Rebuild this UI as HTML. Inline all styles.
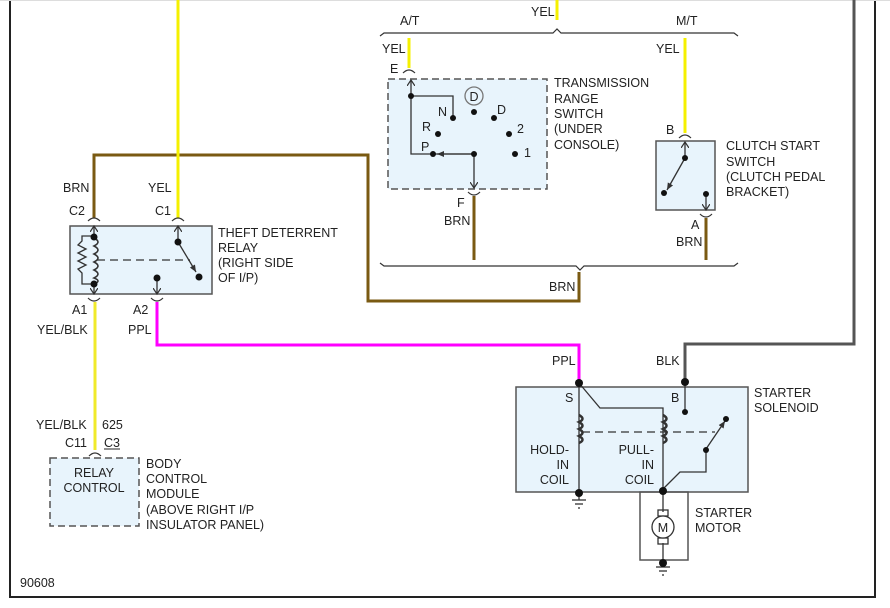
<!DOCTYPE html>
<html><head><meta charset="utf-8"><style>
html,body{margin:0;padding:0;background:#fff}
svg{display:block}
text{font-family:"Liberation Sans",Arial,sans-serif;font-size:12.5px;fill:#222}
</style></head><body>
<svg width="890" height="608" viewBox="0 0 890 608" xmlns="http://www.w3.org/2000/svg">
<defs>
<marker id="ar" markerWidth="8" markerHeight="8" refX="6" refY="4" orient="auto" markerUnits="userSpaceOnUse"><path d="M0,0 L6,4 L0,8" fill="none" stroke="#333" stroke-width="1.2"/></marker>
<marker id="af" markerWidth="8" markerHeight="8" refX="7" refY="4" orient="auto" markerUnits="userSpaceOnUse"><path d="M0,1 L7,4 L0,7Z" fill="#333"/></marker>
</defs>
<path d="M10,0 V597 H875 V0" fill="none" stroke="#222" stroke-width="2"/>
<line x1="0" y1="0.5" x2="890" y2="0.5" stroke="#ddd"/>

<path d="M94,218 V155 H368 V301 H579 V272" fill="none" stroke="#7a5a12" stroke-width="3"/>
<line x1="178" y1="0" x2="178" y2="218" stroke="#f5f000" stroke-width="3"/>
<line x1="95" y1="302" x2="95" y2="450" stroke="#f0ea2a" stroke-width="3"/>
<path d="M157,302 V345 H579 V382" fill="none" stroke="#ff00ff" stroke-width="3"/>
<path d="M854,0 V344 H685 V382" fill="none" stroke="#555" stroke-width="3"/>
<line x1="557" y1="0" x2="557" y2="20" stroke="#f5f000" stroke-width="3"/>
<line x1="409" y1="38" x2="409" y2="68" stroke="#f5f000" stroke-width="3"/>
<line x1="685" y1="38" x2="685" y2="133" stroke="#f5f000" stroke-width="3"/>
<line x1="474" y1="196" x2="474" y2="260" stroke="#7a5a12" stroke-width="3"/>
<line x1="706" y1="218" x2="706" y2="260" stroke="#7a5a12" stroke-width="3"/>

<path d="M380,36 L384,33 H553 L557,29 L561,33 H734 L738,36" fill="none" stroke="#333" stroke-width="1.2"/>
<path d="M380,263 L384,266 H576 L580,270 L584,266 H734 L738,263" fill="none" stroke="#333" stroke-width="1.2"/>

<g fill="none" stroke="#333" stroke-width="1.2">
<path d="M88,221 Q94,215 100,221"/><path d="M172,221 Q178,215 184,221"/>
<path d="M88,298 Q94,304 100,298"/><path d="M151,298 Q157,304 163,298"/>
<path d="M403,73 Q409,67 415,73"/><path d="M468,192 Q474,198 480,192"/>
<path d="M679,138 Q685,132 691,138"/><path d="M700,214 Q706,220 712,214"/>
<path d="M89,456 Q95,450 101,456"/>
</g>

<rect x="70" y="226" width="142" height="68" fill="#e8f4fc" stroke="#555" stroke-width="1.5"/>
<g stroke="#333" stroke-width="1.3" fill="none">
<line x1="94" y1="238" x2="94" y2="226" marker-end="url(#ar)"/>
<line x1="94" y1="284" x2="94" y2="294" marker-end="url(#ar)"/>
<path d="M94,238 q8,4 0,8 q8,4 0,8 q8,4 0,8 q8,4 0,8 q8,4 0,8 q8,3 0,6" stroke-width="1.6"/>
<path d="M94,236 H82 V241 l-4,4 l8,4 l-8,4 l8,4 l-8,4 l8,4 l-8,4 l4,4 V284 H94"/>
<line x1="97" y1="260" x2="190" y2="260" stroke-dasharray="8,5"/>
<line x1="178" y1="240" x2="178" y2="226" marker-end="url(#ar)"/>
<line x1="178" y1="242" x2="196" y2="272" marker-end="url(#af)"/>
<line x1="157" y1="279" x2="157" y2="294" marker-end="url(#ar)"/>
</g>
<g fill="#111"><circle cx="94" cy="237" r="3.5"/><circle cx="94" cy="284" r="3.5"/><circle cx="178" cy="242" r="3.5"/><circle cx="199" cy="277" r="3.5"/><circle cx="157" cy="278" r="3.5"/></g>
<text x="63" y="192">BRN</text><text x="148" y="192">YEL</text>
<text x="69" y="215">C2</text><text x="155" y="215">C1</text>
<text x="218" y="237">THEFT DETERRENT</text><text x="218" y="252">RELAY</text><text x="218" y="267">(RIGHT SIDE</text><text x="218" y="282">OF I/P)</text>
<text x="72" y="314">A1</text><text x="133" y="314">A2</text>
<text x="37" y="334">YEL/BLK</text><text x="128" y="334">PPL</text>

<rect x="50" y="458" width="89" height="68" fill="#e8f4fc" stroke="#555" stroke-width="1.5" stroke-dasharray="7,4"/>
<text x="36" y="429">YEL/BLK</text><text x="102" y="429">625</text>
<text x="65" y="447">C11</text><text x="104" y="447">C3</text><line x1="104" y1="449" x2="120" y2="449" stroke="#222"/>
<text x="94" y="477" text-anchor="middle">RELAY</text><text x="94" y="492" text-anchor="middle">CONTROL</text>
<text x="146" y="468">BODY</text><text x="146" y="483">CONTROL</text><text x="146" y="498">MODULE</text><text x="146" y="514">(ABOVE RIGHT I/P</text><text x="146" y="529">INSULATOR PANEL)</text>
<text x="20" y="587">90608</text>

<rect x="388" y="79" width="159" height="110" fill="#e8f4fc" stroke="#555" stroke-width="1.5" stroke-dasharray="7,4"/>
<g stroke="#333" stroke-width="1.3" fill="none">
<line x1="411" y1="96" x2="411" y2="80" marker-end="url(#ar)"/>
<path d="M411,96 H453 V118"/>
<path d="M411,96 V154 H474"/>
<line x1="474" y1="154" x2="437" y2="154" marker-end="url(#af)"/>
<line x1="474" y1="154" x2="474" y2="188" marker-end="url(#ar)"/>
<circle cx="474" cy="96" r="9" stroke="#777"/>
</g>
<g fill="#111"><circle cx="411" cy="96" r="3"/><circle cx="453" cy="118" r="3"/><circle cx="474" cy="112" r="3"/><circle cx="494" cy="118" r="3"/><circle cx="438" cy="134" r="3"/><circle cx="509" cy="134" r="3"/><circle cx="433" cy="154" r="3"/><circle cx="474" cy="154" r="3"/><circle cx="515" cy="154" r="3"/></g>
<text x="474" y="101" text-anchor="middle">D</text>
<text x="438" y="116">N</text><text x="497" y="114">D</text><text x="422" y="131">R</text><text x="517" y="133">2</text><text x="421" y="151">P</text><text x="524" y="157">1</text>
<text x="400" y="25">A/T</text><text x="531" y="16">YEL</text><text x="676" y="25">M/T</text>
<text x="382" y="53">YEL</text><text x="390" y="73">E</text>
<text x="457" y="207">F</text><text x="444" y="225">BRN</text>
<text x="554" y="87">TRANSMISSION</text><text x="554" y="103">RANGE</text><text x="554" y="118">SWITCH</text><text x="554" y="133">(UNDER</text><text x="554" y="149">CONSOLE)</text>

<rect x="656" y="141" width="59" height="69" fill="#e8f4fc" stroke="#555" stroke-width="1.5"/>
<g stroke="#333" stroke-width="1.3" fill="none">
<line x1="685" y1="158" x2="685" y2="142" marker-end="url(#ar)"/>
<line x1="685" y1="158" x2="667" y2="190" marker-end="url(#af)"/>
<line x1="706" y1="194" x2="706" y2="210" marker-end="url(#ar)"/>
</g>
<g fill="#111"><circle cx="685" cy="158" r="3"/><circle cx="664" cy="193" r="3"/><circle cx="706" cy="194" r="3"/></g>
<text x="656" y="53">YEL</text><text x="666" y="134">B</text><text x="691" y="229">A</text><text x="676" y="246">BRN</text>
<text x="726" y="150">CLUTCH START</text><text x="726" y="166">SWITCH</text><text x="726" y="181">(CLUTCH PEDAL</text><text x="726" y="196">BRACKET)</text>
<text x="549" y="291">BRN</text>

<rect x="516" y="387" width="232" height="105" fill="#e8f4fc" stroke="#555" stroke-width="1.5"/>
<rect x="640" y="492" width="48" height="68" fill="none" stroke="#555" stroke-width="1.5"/>
<g stroke="#333" stroke-width="1.3" fill="none">
<line x1="579" y1="382" x2="579" y2="493"/>
<path d="M579,383 L600,408 H663 V491"/>
<path d="M579,415 q7,4 0,7 q7,4 0,7 q7,4 0,7 q7,4 0,7" stroke-width="2.5"/>
<path d="M663,415 q7,4 0,7 q7,4 0,7 q7,4 0,7 q7,4 0,7" stroke-width="2.5"/>
<line x1="582" y1="432" x2="715" y2="432" stroke-dasharray="8,5"/>
<line x1="685" y1="382" x2="685" y2="412"/>
<path d="M663,489 L680,472 H706 V449"/>
<line x1="706" y1="449" x2="725" y2="421" marker-end="url(#af)"/>
<line x1="663" y1="492" x2="663" y2="512"/>
<line x1="663" y1="543" x2="663" y2="563"/>
<rect x="658" y="510" width="10" height="6"/><rect x="658" y="538" width="10" height="6"/>
<circle cx="663" cy="527" r="11" fill="#fff"/>
<line x1="579" y1="493" x2="579" y2="500"/><line x1="572" y1="500" x2="586" y2="500"/><line x1="575" y1="504" x2="583" y2="504"/><line x1="578" y1="508" x2="580" y2="508"/>
<line x1="663" y1="563" x2="663" y2="567"/><line x1="656" y1="567" x2="670" y2="567"/><line x1="659" y1="571" x2="667" y2="571"/><line x1="662" y1="575" x2="664" y2="575"/>
</g>
<g fill="#111"><circle cx="579" cy="383" r="4"/><circle cx="685" cy="382" r="4"/><circle cx="685" cy="412" r="3"/><circle cx="726" cy="419" r="3"/><circle cx="706" cy="450" r="3"/><circle cx="663" cy="491" r="4"/><circle cx="579" cy="493" r="4"/><circle cx="663" cy="563" r="4"/></g>
<text x="663" y="532" text-anchor="middle" font-size="13">M</text>
<text x="552" y="365">PPL</text><text x="656" y="365">BLK</text>
<text x="565" y="402">S</text><text x="671" y="402">B</text>
<text x="754" y="397">STARTER</text><text x="754" y="412">SOLENOID</text>
<text x="569" y="454" text-anchor="end">HOLD-</text><text x="569" y="469" text-anchor="end">IN</text><text x="569" y="484" text-anchor="end">COIL</text>
<text x="654" y="454" text-anchor="end">PULL-</text><text x="654" y="469" text-anchor="end">IN</text><text x="654" y="484" text-anchor="end">COIL</text>
<text x="695" y="517">STARTER</text><text x="695" y="532">MOTOR</text>
</svg>
</body></html>
